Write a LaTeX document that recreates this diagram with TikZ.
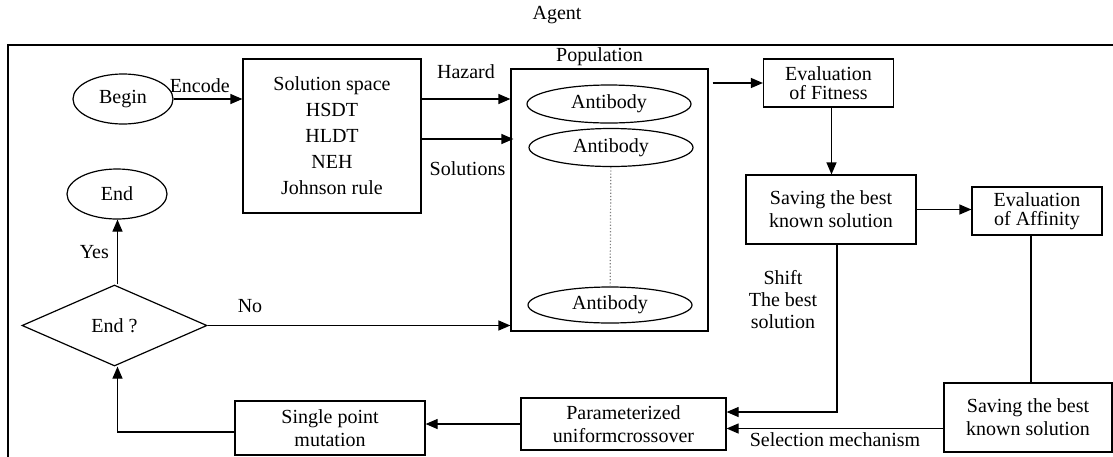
\documentclass[tikz,border=0pt]{standalone}
\usepackage{fontspec}
\setmainfont{Liberation Serif}
\usetikzlibrary{shapes.geometric,arrows.meta,positioning}
\tikzset{bx/.style={draw,align=center,inner sep=1pt,font=\fontsize{10}{11.5}\selectfont},
 tt/.style={font=\fontsize{10}{9.5}\selectfont},
 el/.style={draw,ellipse,inner sep=0pt},
 dm/.style={draw,diamond,inner sep=0pt},
 ar/.style={-{Triangle[length=6pt,width=5pt]}},lb/.style={inner sep=1pt,align=center}}

\begin{document}
\begin{tikzpicture}[x=0.5pt,y=-0.5pt,line width=0.6pt]
\useasboundingbox (0,0) rectangle (1113,456);
\node[lb](agent) at (557,15){Agent};\draw (8,470)|-(1130,45);
\node[el,minimum width=50pt,minimum height=25pt](begin) at (123,99){Begin};
\node[bx,minimum width=89pt,minimum height=77pt,font=\fontsize{10}{13}\selectfont](sol) at (332,136){Solution space\\HSDT\\HLDT\\NEH\\Johnson rule};
\node[draw,minimum width=98.5pt,minimum height=131pt](pop) at (609.5,200){};\node[lb,above=0pt of pop,xshift=-5pt](poplb){Population};
\node[el,minimum width=82pt,minimum height=19pt](ab1) at (609,104){Antibody};\node[el,minimum width=82pt,minimum height=19pt](ab2) at (611,147.5){Antibody};
\node[el,minimum width=82pt,minimum height=18pt](ab3) at (610,305){Antibody};
\node[bx,tt,minimum width=65pt,minimum height=24pt](fit) at (828.5,83){Evaluation\\of Fitness};
\node[bx,minimum width=85pt,minimum height=34.5pt](sav1) at (831,209.5){Saving the best\\known solution};
\node[bx,tt,minimum width=65pt,minimum height=24pt](aff) at (1037,211){Evaluation\\of Affinity};
\node[bx,minimum width=84pt,minimum height=34.5pt](sav2) at (1028,417.5){Saving the best\\known solution};
\node[bx,minimum width=102.5pt,minimum height=26pt](par) at (623.5,424){Parameterized\\uniformcrossover};
\node[bx,minimum width=95pt,minimum height=27pt](spm) at (330,428){Single point\\mutation};
\node[dm,minimum width=92.5pt,minimum height=40.5pt](dia) at (114.5,325.5){End ?};
\node[el,minimum width=50pt,minimum height=25pt](endn) at (117,194){End};
\node[lb,font=\fontsize{10}{11}\selectfont](shiftlb) at (783,300){Shift\\The best\\solution};
% connectors
\draw[ar](begin.east)--node[lb,pos=0.38,above=2pt]{Encode}(begin.east-|sol.west);
\draw[ar]([yshift=18.5pt]sol.east)--node[lb,above=9pt]{Hazard}([yshift=18.5pt]sol.east-|pop.west);
\draw[ar]([yshift=-1.5pt]sol.east)--node[lb,below=10pt]{Solutions}([yshift=-1.5pt,xshift=1.5pt]sol.east-|pop.west);
\draw[densely dotted,gray](ab2)--(ab3);
\draw[ar,shorten <=2pt](pop.east|-fit.west)--(fit.west);\draw[ar]([xshift=1.5pt]fit.south)--([xshift=1.5pt]fit.south|-sav1.north);
\draw[ar](sav1.east)--(sav1.east-|aff.west);\draw([xshift=-3pt]aff.south)--([xshift=-3pt]aff.south|-sav2.north);
\draw[ar]([xshift=3pt]sav1.south)|-([yshift=6pt]par.east);
\draw[ar]([yshift=-5.5pt]sav2.west)--node[lb,below=1pt]{Selection mechanism}([yshift=-5.5pt]sav2.west-|par.east);
\draw[ar](par.west)--(par.west-|spm.east);\draw[ar]([yshift=-2pt]spm.west)-|([xshift=1.5pt]dia.south);
\draw[ar]([xshift=1.5pt]dia.north)--node[lb,left=3pt]{Yes}([xshift=1.5pt]dia.north|-endn.south);\draw[ar](dia.east)--node[lb,pos=0.14,above=5pt]{No}(dia.east-|pop.west);
\end{tikzpicture}
\end{document}
